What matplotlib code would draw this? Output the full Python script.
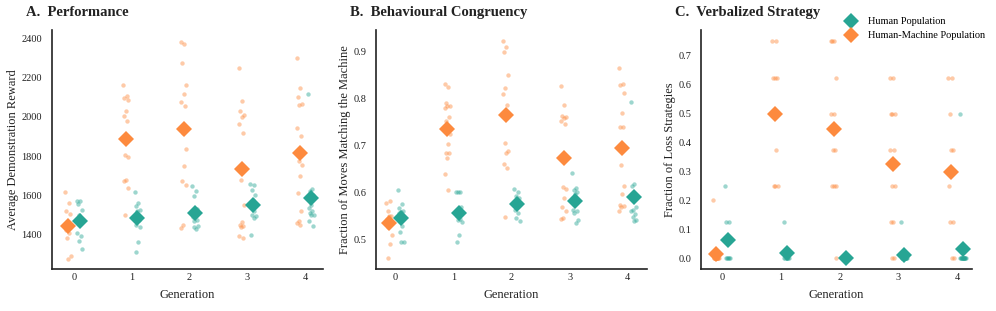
import numpy as np
import matplotlib
matplotlib.use("Agg")
import matplotlib.pyplot as plt
from matplotlib.lines import Line2D

plt.rcParams['font.family'] = ['Liberation Serif', 'DejaVu Serif']

generations = [0, 1, 2, 3, 4]

# A. Performance - average demonstration reward per participant
perf_hm = [
    [1617, 1561, 1524, 1505, 1463, 1425, 1408, 1383, 1295, 1280],
    [2161, 2105, 2097, 2085, 2032, 2003, 1978, 1808, 1795, 1681, 1673, 1639, 1500],
    [2381, 2368, 2275, 2164, 2114, 2076, 2054, 1919, 1839, 1749, 1676, 1656, 1453, 1436],
    [2246, 2080, 2032, 2008, 1998, 1964, 1919, 1681, 1551, 1466, 1450, 1444, 1439, 1393, 1385],
    [2297, 2147, 2102, 2066, 2058, 1941, 1902, 1775, 1754, 1698, 1614, 1520, 1469, 1461, 1453],
]
perf_human = [
    [1575, 1571, 1559, 1529, 1500, 1410, 1397, 1371, 1330],
    [1617, 1563, 1549, 1529, 1520, 1503, 1478, 1453, 1439, 1364, 1314],
    [1647, 1622, 1597, 1530, 1505, 1490, 1478, 1469, 1444, 1431, 1440],
    [1661, 1656, 1627, 1605, 1580, 1560, 1520, 1503, 1495, 1486, 1398],
    [2114, 1636, 1625, 1605, 1554, 1537, 1524, 1512, 1503, 1500, 1473, 1447],
]

# B. Behavioural congruency - fraction of moves matching the machine
cong_hm = [
    [0.579, 0.582, 0.562, 0.550, 0.550, 0.545, 0.540, 0.527, 0.510, 0.490, 0.462],
    [0.831, 0.824, 0.789, 0.784, 0.784, 0.780, 0.760, 0.752, 0.725, 0.702, 0.683, 0.683, 0.674, 0.640, 0.605],
    [0.922, 0.909, 0.897, 0.849, 0.821, 0.809, 0.786, 0.705, 0.688, 0.683, 0.661, 0.652, 0.548],
    [0.826, 0.786, 0.763, 0.760, 0.759, 0.752, 0.745, 0.612, 0.607, 0.588, 0.569, 0.561, 0.547, 0.545],
    [0.865, 0.831, 0.828, 0.812, 0.768, 0.739, 0.739, 0.659, 0.614, 0.598, 0.574, 0.572, 0.569, 0.561],
]
cong_human = [
    [0.605, 0.576, 0.568, 0.562, 0.559, 0.556, 0.529, 0.517, 0.495, 0.495],
    [0.601, 0.601, 0.601, 0.569, 0.562, 0.550, 0.545, 0.541, 0.538, 0.510, 0.495],
    [0.607, 0.601, 0.592, 0.589, 0.580, 0.564, 0.557, 0.546, 0.539],
    [0.642, 0.610, 0.605, 0.602, 0.598, 0.564, 0.562, 0.557, 0.541, 0.536],
    [0.793, 0.619, 0.614, 0.569, 0.564, 0.561, 0.554, 0.548, 0.541, 0.540],
]

# C. Verbalized strategy - fraction of loss strategies
strat_hm = [
    [0.2, 0, 0, 0, 0, 0, 0, 0, 0, 0, 0, 0, 0],
    [0.75, 0.75, 0.625, 0.625, 0.625, 0.5, 0.375, 0.25, 0.25, 0.25],
    [0.75, 0.75, 0.75, 0.625, 0.5, 0.5, 0.375, 0.375, 0.25, 0.25, 0.25, 0],
    [0.625, 0.625, 0.5, 0.5, 0.5, 0.375, 0.375, 0.25, 0.25, 0.125, 0.125, 0, 0],
    [0.625, 0.625, 0.5, 0.375, 0.375, 0.25, 0.125, 0.125, 0, 0],
]
strat_human = [
    [0.25, 0.125, 0.125, 0, 0, 0, 0, 0],
    [0.125, 0, 0, 0, 0, 0, 0],
    [0, 0, 0, 0, 0, 0, 0, 0],
    [0.125, 0, 0, 0, 0, 0, 0, 0, 0, 0, 0, 0],
    [0.5, 0, 0, 0, 0, 0, 0, 0, 0, 0, 0, 0, 0, 0, 0],
]

teal = '#27a594'
orange = '#fd8a3e'
dark = '#222222'


def jitter(n, width=0.05):
    # deterministic spread of the strip points
    return ((np.arange(n) * 0.618034) % 1 - 0.5) * 2 * width


def draw_panel(ax, hm, human, title, ylabel, ylim, yticks, xlim, fmt=None):
    for data, color, off in [(hm, orange, -0.1), (human, teal, 0.1)]:
        for g, vals in zip(generations, data):
            x = g + off + jitter(len(vals))
            ax.scatter(x, vals, s=10, color=color, alpha=0.45, linewidths=0, zorder=2)
    for data, color, off in [(hm, orange, -0.1), (human, teal, 0.1)]:
        means = [np.mean(v) for v in data]
        ax.plot(np.array(generations) + off, means, 'D', ms=8.5, color=color,
                markeredgewidth=0, linestyle='none', zorder=3)
    ax.set_xlim(xlim)
    ax.set_ylim(ylim)
    ax.set_xticks(generations)
    ax.set_yticks(yticks)
    if fmt:
        ax.set_yticklabels([fmt.format(t) for t in yticks])
    ax.tick_params(axis='both', length=0, labelsize=7.5, colors=dark)
    ax.tick_params(axis='y', pad=7)
    ax.tick_params(axis='x', pad=3)
    for s in ['top', 'right']:
        ax.spines[s].set_visible(False)
    for s in ['left', 'bottom']:
        ax.spines[s].set_color(dark)
        ax.spines[s].set_linewidth(1.2)
    ax.set_xlabel('Generation', fontsize=9, labelpad=5, color=dark)
    ax.set_ylabel(ylabel, fontsize=9, labelpad=1.5, color=dark)
    ax.text(-0.097, 1.045, title, transform=ax.transAxes, fontsize=10.5,
            fontweight='bold', ha='left', va='bottom', color=dark)


fig = plt.figure(figsize=(9.96, 3.11), dpi=100)
bottom, top = 0.135, 0.904
axA = fig.add_axes([0.052, bottom, 0.272, top - bottom])
axB = fig.add_axes([0.3775, bottom, 0.272, top - bottom])
axC = fig.add_axes([0.7038, bottom, 0.272, top - bottom])

draw_panel(axA, perf_hm, perf_human, 'A.  Performance', 'Average Demonstration Reward',
           (1227, 2442), [1400, 1600, 1800, 2000, 2200, 2400], (-0.38, 4.3))
draw_panel(axB, cong_hm, cong_human, 'B.  Behavioural Congruency',
           'Fraction of Moves Matching the Machine',
           (0.438, 0.945), [0.5, 0.6, 0.7, 0.8, 0.9], (-0.33, 4.33))
draw_panel(axC, strat_hm, strat_human, 'C.  Verbalized Strategy', 'Fraction of Loss Strategies',
           (-0.037, 0.79), [0.0, 0.1, 0.2, 0.3, 0.4, 0.5, 0.6, 0.7], (-0.36, 4.25), fmt='{:.1f}')

handles = [
    Line2D([], [], marker='D', ms=8.5, color=teal, linestyle='none', markeredgewidth=0),
    Line2D([], [], marker='D', ms=8.5, color=orange, linestyle='none', markeredgewidth=0),
]
fig.legend(handles, ['Human Population', 'Human-Machine Population'], loc='upper left',
           bbox_to_anchor=(0.84, 0.975), frameon=False, fontsize=7.5,
           handlelength=1.0, handletextpad=1.1, labelspacing=0.45, borderpad=0.4)

fig.savefig('out.png', dpi=100)
